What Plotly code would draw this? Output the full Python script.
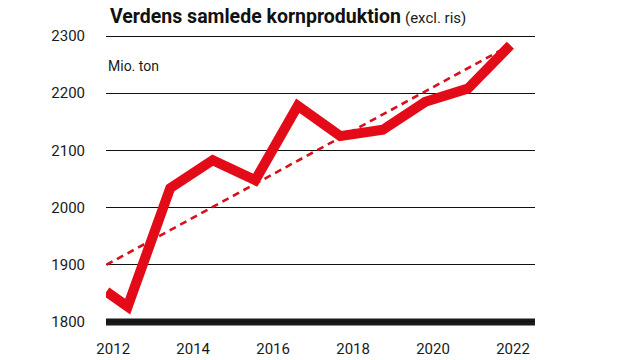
import plotly.graph_objects as go

# Data (crop seasons; first point sits at the left edge of the chart)
season_pos = [2011.5, 2012, 2013, 2014, 2015, 2016, 2017, 2018, 2019, 2020, 2021]
production = [1853, 1827, 2034, 2083, 2048, 2178, 2125, 2136, 2185, 2208, 2284]

trend_pos = [2011.5, 2020.75]
trend_val = [1900, 2274]

year_ticks = [2012, 2014, 2016, 2018, 2020, 2022]
y_ticks = [1800, 1900, 2000, 2100, 2200, 2300]

RED = "#E30B17"
FONT = "Roboto, Open Sans, sans-serif"
OFF = 8  # page body margin
PLOT_W, PLOT_H = 429, 300

fig = go.Figure()

fig.add_trace(go.Scatter(
    x=trend_pos, y=trend_val, mode="lines",
    line=dict(color="#D7101C", width=2.6, dash="7px,5px"),
    hoverinfo="skip", showlegend=False,
))
fig.add_trace(go.Scatter(
    x=season_pos, y=production, mode="lines",
    line=dict(color=RED, width=10),
    hoverinfo="skip", showlegend=False,
))
# empty trace that carries the year label axis
fig.add_trace(go.Scatter(
    x=year_ticks, y=[None] * len(year_ticks), xaxis="x2", mode="lines",
    hoverinfo="skip", showlegend=False,
))

# thick baseline at 1800
fig.add_shape(type="line", xref="paper", yref="y", x0=0, x1=1, y0=y_ticks[0], y1=y_ticks[0],
              line=dict(color="#1a1a1a", width=7), layer="below")

fig.update_layout(
    width=640 - OFF, height=360 - OFF,
    margin=dict(l=106 - OFF, r=105, t=30 - OFF, b=30),
    paper_bgcolor="white", plot_bgcolor="white",
    font=dict(family=FONT, size=15, color="#1a1a1a"),
    xaxis=dict(range=[2011.49, 2021.58], visible=False, fixedrange=True),
    xaxis2=dict(range=[2011.82, 2022.55], overlaying="x", side="bottom", anchor="y",
                tickvals=year_ticks, ticktext=[str(v) for v in year_ticks],
                showgrid=False, zeroline=False, showline=False, ticks="",
                ticklabelstandoff=8, automargin=False,
                tickfont=dict(family=FONT, size=15, color="#1a1a1a")),
    yaxis=dict(range=[1786, 2310.5], tickvals=y_ticks, ticktext=[str(v) for v in y_ticks],
               showgrid=True, gridcolor="#111", gridwidth=1, zeroline=False,
               showline=False, ticks="", ticklabelstandoff=20, automargin=False,
               tickfont=dict(family=FONT, size=15, color="#1a1a1a")),
    annotations=[
        dict(text="<b>Verdens samlede kornproduktion</b>",
             xref="paper", yref="paper", x=(108 - 106) / PLOT_W, y=1 + (30 - 16) / PLOT_H,
             xanchor="left", yanchor="middle", showarrow=False,
             font=dict(family=FONT, size=19.5, color="#111")),
        dict(text="(excl. ris)",
             xref="paper", yref="paper", x=(403 - 106) / PLOT_W, y=1 + (30 - 17.8) / PLOT_H,
             xanchor="left", yanchor="middle", showarrow=False,
             font=dict(family=FONT, size=15, color="#1a1a1a")),
        dict(text="Mio. ton", xref="paper", yref="paper", x=0, y=(330 - 66) / PLOT_H,
             xanchor="left", yanchor="middle", showarrow=False,
             font=dict(family=FONT, size=14, color="#1a1a1a")),
    ],
)

fig.write_html("out.html")
